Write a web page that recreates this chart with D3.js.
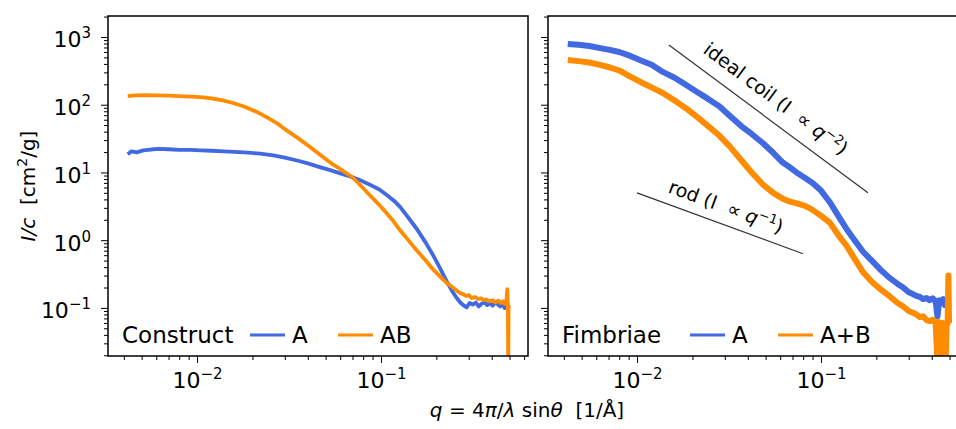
<!DOCTYPE html>
<html>
<head>
<meta charset="utf-8">
<script src="https://cdn.jsdelivr.net/npm/d3@7"></script>
<style>
  body { margin: 0; background: #fff; }
  svg { display: block; font-family: "DejaVu Sans", sans-serif; }
</style>
</head>
<body>
<div id="chart"></div>
<script>
// ---- data ----
// left panel: Construct
const constructA_q = [0.0042, 0.0044, 0.0047, 0.0051, 0.0056, 0.0062, 0.0070, 0.0080, 0.0092, 0.0105, 0.012, 0.014, 0.016, 0.019, 0.022, 0.026, 0.030, 0.035, 0.040, 0.046, 0.053, 0.060, 0.068, 0.077, 0.087, 0.098, 0.108, 0.118, 0.127, 0.140, 0.157, 0.175, 0.192, 0.210, 0.227, 0.246, 0.258, 0.270, 0.280, 0.292, 0.303, 0.315, 0.328, 0.340, 0.352, 0.365, 0.378, 0.392, 0.405, 0.418, 0.432, 0.445, 0.458, 0.470, 0.480, 0.488, 0.494];
const constructA_I = [18.5, 20.5, 19.8, 21.2, 21.8, 22.3, 22.0, 21.6, 21.5, 21.2, 20.9, 20.5, 20.1, 19.6, 18.9, 17.9, 16.6, 15.0, 13.6, 12.1, 10.8, 9.7, 8.7, 7.7, 6.6, 5.6, 4.6, 3.8, 3.1, 2.2, 1.45, 0.92, 0.6, 0.38, 0.25, 0.17, 0.14, 0.12, 0.11, 0.102, 0.118, 0.112, 0.12, 0.105, 0.115, 0.122, 0.11, 0.118, 0.108, 0.12, 0.112, 0.105, 0.117, 0.10, 0.108, 0.095, 0.11];

const constructAB_q = [0.0042, 0.0046, 0.0052, 0.006, 0.007, 0.008, 0.0092, 0.0104, 0.012, 0.0138, 0.0157, 0.018, 0.021, 0.024, 0.027, 0.031, 0.036, 0.041, 0.047, 0.055, 0.062, 0.070, 0.078, 0.087, 0.096, 0.106, 0.117, 0.127, 0.140, 0.157, 0.175, 0.192, 0.210, 0.227, 0.246, 0.258, 0.270, 0.280, 0.290, 0.300, 0.312, 0.325, 0.337, 0.350, 0.362, 0.375, 0.390, 0.405, 0.420, 0.435, 0.450, 0.462, 0.472, 0.480, 0.486, 0.490, 0.492, 0.494];
const constructAB_I = [134, 137, 138, 137.5, 136, 134, 132, 129, 124, 116, 106, 94, 79, 65, 54, 41, 31, 24, 18, 13, 10.6, 8.5, 6.3, 4.6, 3.5, 2.6, 1.9, 1.4, 1.02, 0.7, 0.5, 0.37, 0.29, 0.235, 0.2, 0.18, 0.165, 0.16, 0.15, 0.155, 0.14, 0.145, 0.135, 0.138, 0.13, 0.133, 0.125, 0.13, 0.12, 0.128, 0.118, 0.125, 0.115, 0.12, 0.19, 0.10, 0.012, 0.11];

// right panel: Fimbriae
const fimbriaeA_q = [0.0042, 0.0048, 0.0055, 0.0062, 0.007, 0.008, 0.0092, 0.0105, 0.012, 0.0138, 0.016, 0.0185, 0.0212, 0.024, 0.028, 0.032, 0.037, 0.042, 0.0484, 0.055, 0.062, 0.068, 0.074, 0.082, 0.090, 0.100, 0.112, 0.124, 0.138, 0.153, 0.169, 0.190, 0.210, 0.235, 0.259, 0.280, 0.300, 0.316, 0.330, 0.345, 0.360, 0.375, 0.390, 0.405, 0.420, 0.430, 0.440, 0.452, 0.462, 0.472, 0.480];
const fimbriaeA_I = [790, 765, 735, 690, 650, 600, 525, 450, 390, 305, 250, 195, 154, 125, 95, 68, 48, 37, 27, 19.5, 14, 11.8, 9.9, 8.3, 7.0, 5.4, 3.6, 2.3, 1.45, 0.98, 0.68, 0.49, 0.37, 0.28, 0.23, 0.2, 0.17, 0.16, 0.15, 0.145, 0.135, 0.14, 0.13, 0.138, 0.125, 0.075, 0.13, 0.12, 0.135, 0.11, 0.14];

const fimbriaeAB_q = [0.0042, 0.0048, 0.0055, 0.0062, 0.007, 0.008, 0.0092, 0.0105, 0.012, 0.0138, 0.016, 0.0185, 0.0212, 0.024, 0.028, 0.032, 0.037, 0.042, 0.0484, 0.055, 0.062, 0.068, 0.074, 0.082, 0.090, 0.100, 0.112, 0.124, 0.138, 0.153, 0.169, 0.190, 0.210, 0.235, 0.259, 0.280, 0.300, 0.316, 0.330, 0.345, 0.360, 0.375, 0.390, 0.405, 0.420, 0.430, 0.437, 0.445, 0.452, 0.460, 0.468, 0.476, 0.482, 0.488, 0.493, 0.497];
const fimbriaeAB_I = [458, 440, 420, 390, 360, 320, 260, 215, 180, 149, 115, 88, 66, 50, 35, 24, 15, 10, 6.6, 5.0, 4.1, 3.7, 3.5, 3.2, 2.8, 2.3, 1.8, 1.2, 0.82, 0.52, 0.34, 0.24, 0.19, 0.15, 0.12, 0.105, 0.09, 0.085, 0.08, 0.073, 0.075, 0.066, 0.064, 0.067, 0.06, 0.015, 0.062, 0.058, 0.012, 0.06, 0.055, 0.015, 0.06, 0.058, 0.3, 0.06];

// guide lines (power laws) in the right panel
const coilQ = [0.0149, 0.18], coilI = [762, 5.0];
const rodQ = [0.01, 0.0798], rodI = [5.0, 0.63];

const xMajor = [1e-2, 1e-1];
const yMajor = [1e-1, 1e0, 1e1, 1e2, 1e3];

const blue = "#4169e1", orange = "#ff8c00";

// ---- layout ----
const width = 956, height = 429;
const pw = 420, ph = 340, topY = 16;

const svg = d3.select("#chart").append("svg")
    .attr("width", width)
    .attr("height", height);

const x = d3.scaleLog().domain([0.00328, 0.63]).range([0, pw]);
const y = d3.scaleLog().domain([0.0195, 2040]).range([ph, 0]);

// minor ticks 2..9 in every decade in range
function minors(scale, lo, hi) {
  const out = [];
  const [a, b] = scale.domain();
  for (let e = lo; e <= hi; e++)
    for (let k = 2; k <= 9; k++) {
      const v = k * Math.pow(10, e);
      if (v >= a && v <= b) out.push(v);
    }
  return out;
}

function supLabel(sel, v) {
  const e = Math.round(Math.log10(v));
  sel.text("10");
  sel.append("tspan").attr("dy", -9).attr("font-size", 15)
    .text(e < 0 ? "\u2212" + (-e) : String(e));
}

const line = d3.line().x(d => x(d[0])).y(d => y(d[1]));
const zip = (q, I) => q.map((v, i) => [v, I[i]]);

const panels = [
  { x0: 108, name: "Construct", lw: 3.8, yLabels: true,
    series: [{ q: constructA_q, I: constructA_I, c: blue, label: "A" },
             { q: constructAB_q, I: constructAB_I, c: orange, label: "AB" }] },
  { x0: 548, name: "Fimbriae", lw: 6, yLabels: false,
    series: [{ q: fimbriaeA_q, I: fimbriaeA_I, c: blue, label: "A" },
             { q: fimbriaeAB_q, I: fimbriaeAB_I, c: orange, label: "A+B" }] }
];

panels.forEach((p, pi) => {
  const g = svg.append("g").attr("transform", `translate(${p.x0},${topY})`);

  g.append("clipPath").attr("id", "clip" + pi)
    .append("rect").attr("width", pw).attr("height", ph);

  // x axis
  const xa = g.append("g").attr("transform", `translate(0,${ph})`)
    .call(d3.axisBottom(x).tickValues(xMajor).tickSize(7).tickFormat(""));
  xa.selectAll(".tick text").each(function (d) { supLabel(d3.select(this), d); })
    .attr("font-size", 22).attr("font-family", "DejaVu Sans").attr("fill", "#000")
    .attr("dy", null).attr("y", 32);
  g.append("g").attr("transform", `translate(0,${ph})`)
    .call(d3.axisBottom(x).tickValues(minors(x, -3, -1)).tickSize(4).tickFormat(""));

  // y axis
  const ya = g.append("g")
    .call(d3.axisLeft(y).tickValues(yMajor).tickSize(7).tickFormat(""));
  if (p.yLabels) {
    ya.selectAll(".tick text").each(function (d) { supLabel(d3.select(this), d); })
      .attr("font-size", 22).attr("font-family", "DejaVu Sans").attr("fill", "#000")
      .attr("x", -17).attr("dy", null).attr("y", 10);
  }
  g.append("g")
    .call(d3.axisLeft(y).tickValues(minors(y, -2, 3)).tickSize(4).tickFormat(""));

  g.selectAll(".domain").remove();
  g.selectAll(".tick line").attr("stroke", "#000").attr("stroke-width", 1);

  // data
  const plot = g.append("g").attr("clip-path", `url(#clip${pi})`);
  p.series.forEach(s => {
    plot.append("path")
      .datum(zip(s.q, s.I))
      .attr("fill", "none")
      .attr("stroke", s.c)
      .attr("stroke-width", p.lw)
      .attr("stroke-linejoin", "round")
      .attr("d", line);
  });

  // frame
  g.append("rect").attr("width", pw).attr("height", ph)
    .attr("fill", "none").attr("stroke", "#000").attr("stroke-width", 1.5);

  // legend
  const lg = g.append("g").attr("font-size", 23);
  lg.append("text").attr("x", 14).attr("y", 327).text(p.name);
  const offs = [142, 230];
  p.series.forEach((s, i) => {
    lg.append("line").attr("x1", offs[i]).attr("x2", offs[i] + 35)
      .attr("y1", 319).attr("y2", 319)
      .attr("stroke", s.c).attr("stroke-width", 3);
    lg.append("text").attr("x", offs[i] + 42).attr("y", 327).text(s.label);
  });

  // power-law guides
  if (pi === 1) {
    const guides = [
      { q: coilQ, I: coilI, pre: "ideal coil (I ", exp: "\u22122", off: -14, along: -6 },
      { q: rodQ, I: rodI, pre: "rod (I ", exp: "\u22121", off: -11, along: 0 }
    ];
    guides.forEach(gd => {
      const pts = zip(gd.q, gd.I);
      g.append("path").datum(pts).attr("d", line)
        .attr("stroke", "#333").attr("stroke-width", 1.2).attr("fill", "none");
      const [x1, y1] = [x(pts[0][0]), y(pts[0][1])];
      const [x2, y2] = [x(pts[1][0]), y(pts[1][1])];
      const ang = Math.atan2(y2 - y1, x2 - x1) * 180 / Math.PI;
      const t = g.append("text")
        .attr("transform", `translate(${(x1 + x2) / 2},${(y1 + y2) / 2}) rotate(${ang})`)
        .attr("x", gd.along).attr("y", gd.off)
        .attr("text-anchor", "middle").attr("font-size", 19)
        .style("white-space", "pre");
      t.append("tspan").text(gd.pre + " \u221d ");
      t.append("tspan").attr("font-style", "italic").text("q");
      t.append("tspan").attr("dy", -7).attr("font-size", 13).text(gd.exp);
      t.append("tspan").attr("dy", 7).text(")");
    });
  }
});

// axis titles
const yl = svg.append("text")
  .attr("transform", "translate(35,186) rotate(-90)")
  .attr("text-anchor", "middle").attr("font-size", 20)
  .style("white-space", "pre");
yl.append("tspan").attr("font-style", "italic").text("I/c");
yl.append("tspan").text("  [cm");
yl.append("tspan").attr("dy", -8).attr("font-size", 14).text("2");
yl.append("tspan").attr("dy", 8).text("/g]");

const xl = svg.append("text")
  .attr("x", 527).attr("y", 417)
  .attr("text-anchor", "middle").attr("font-size", 20)
  .style("white-space", "pre");
xl.append("tspan").attr("font-style", "italic").text("q");
xl.append("tspan").text(" = 4");
xl.append("tspan").attr("font-style", "italic").text("\u03c0");
xl.append("tspan").text("/");
xl.append("tspan").attr("font-style", "italic").text("\u03bb");
xl.append("tspan").text(" sin");
xl.append("tspan").attr("font-style", "italic").text("\u03b8");
xl.append("tspan").text("  [1/\u00c5]");
</script>
</body>
</html>
